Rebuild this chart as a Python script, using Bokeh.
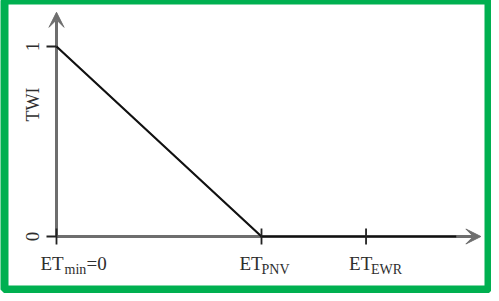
from math import pi
from bokeh.plotting import figure
from bokeh.models import Range1d, Arrow, VeeHead
from bokeh.embed import file_html
from bokeh.resources import INLINE
from bokeh.core.properties import value

# ---------------- data ----------------
et_tick_values = [0.0, 1.0, 1.51]          # ET_min = 0, ET_PNV, ET_EWR
et_tick_main = ["ET", "ET", "ET"]
et_tick_sub = ["min", "PNV", "EWR"]
et_tick_suffix = ["=0", "", ""]
twi_tick_values = [0.0, 1.0]
twi_tick_labels = ["0", "1"]
curve_et = [0.0, 1.0, 1.95]
curve_twi = [1.0, 0.0, 0.0]
x_axis_end = 2.07
y_axis_end = 1.18
y_title = "TWI"

# ---------------- layout (pixels) ----------------
W, H = 491, 293
PAGE = 8
X0_PX, X1_PX = 64, 269      # page x of ET=0 and ET=1
Y0_PX, Y1_PX = 244, 54      # page y of TWI=0 and TWI=1
BL, BR, BT, BB = 4, 3, 0, 4
sx = X1_PX - X0_PX
sy = Y0_PX - Y1_PX
fl, fr = PAGE + BL, PAGE + W - BR
ft, fb = PAGE + BT, PAGE + H - BB

GREEN = "#00b050"
AXIS = "#6e6e6e"
TEXT = "#2e2e2e"
FONT = value("Liberation Serif")

p = figure(width=W, height=H, output_backend="svg", toolbar_location=None,
           x_axis_type=None, y_axis_type=None,
           x_range=Range1d((fl - X0_PX) / sx, (fr - X0_PX) / sx),
           y_range=Range1d((Y0_PX - fb) / sy, (Y0_PX - ft) / sy),
           min_border_left=BL, min_border_right=BR,
           min_border_top=BT, min_border_bottom=BB)
p.background_fill_color = "white"
p.border_fill_color = "white"
p.outline_line_color = GREEN
p.outline_line_width = 8
p.grid.visible = False

# axes with arrow heads
for xe, ye in [(x_axis_end, 0.0), (0.0, y_axis_end)]:
    p.add_layout(Arrow(end=VeeHead(size=15, fill_color=AXIS, line_color=AXIS, line_width=1),
                       x_start=0.0, y_start=0.0, x_end=xe, y_end=ye,
                       line_color=AXIS, line_width=3, level="underlay"))

# curve
p.line(curve_et, curve_twi, line_color="#111111", line_width=2.2)

# ticks
p.ray(x=[0.0] * len(twi_tick_values), y=twi_tick_values, length=10, angle=pi,
      length_units="screen", line_color="#222222", line_width=1.8)
p.scatter(x=et_tick_values, y=[0.0] * len(et_tick_values), marker="dash", size=16,
          angle=pi / 2, line_color="#222222", line_width=1.8)

# y tick labels and title (rotated)
p.text(x=[0.0] * len(twi_tick_values), y=twi_tick_values, text=twi_tick_labels,
       angle=pi / 2, x_offset=-24, text_align="center", text_baseline="middle",
       text_font=FONT, text_font_size="19px", text_color=TEXT)
p.text(x=[0.0], y=[1.0], text=[y_title], angle=pi / 2, x_offset=-23.5, y_offset=58,
       text_align="center", text_baseline="middle",
       text_font=FONT, text_font_size="18px", text_color=TEXT)

# x tick labels with subscripts
p.text(x=et_tick_values, y=[0.0] * 3, text=et_tick_main, x_offset=[-16, -22, -17],
       y_offset=27, text_align="left", text_baseline="alphabetic",
       text_font=FONT, text_font_size="19px", text_color=TEXT)
p.text(x=et_tick_values, y=[0.0] * 3, text=et_tick_sub, x_offset=[8, 0, 5],
       y_offset=33, text_align="left", text_baseline="alphabetic",
       text_font=FONT, text_font_size="14px", text_color=TEXT)
p.text(x=et_tick_values[:1], y=[0.0], text=et_tick_suffix[:1], x_offset=30,
       y_offset=27, text_align="left", text_baseline="alphabetic",
       text_font=FONT, text_font_size="19px", text_color=TEXT)

open("out.html", "w").write(file_html(p, INLINE))
